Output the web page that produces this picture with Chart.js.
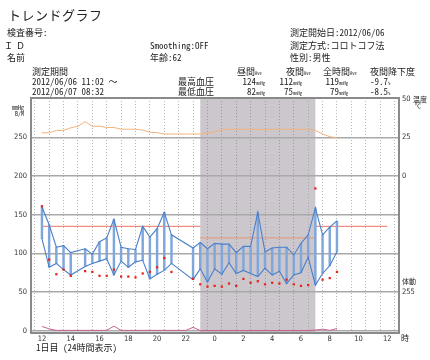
<!DOCTYPE html>
<html>
<head>
<meta charset="utf-8">
<script src="https://cdn.jsdelivr.net/npm/chart.js@4"></script>
<style>
  body { margin: 0; background: #fff; }
  #wrap { position: relative; width: 430px; height: 360px; overflow: hidden; background: #fff; }
  #c { position: absolute; left: 0; top: 0; }
  .t { position: absolute; white-space: nowrap; line-height: 1; color: #222;
       font-family: "Noto Sans Mono CJK JP", "Noto Sans CJK JP", monospace; font-size: 9px; }
  .t small { font-size: 4.5px; }
</style>
</head>
<body>
<div id="wrap">
  <canvas id="c" width="430" height="360"></canvas>
  <div class="t" style="left:8px;top:8px;font-size:13px;letter-spacing:0.5px">トレンドグラフ</div>
  <div class="t" style="left:7px;top:28px">検査番号:</div>
  <div class="t" style="left:4px;top:41px;letter-spacing:3px">ＩＤ</div>
  <div class="t" style="left:7px;top:53px">名前</div>
  <div class="t" style="left:150px;top:41px">Smoothing:OFF</div>
  <div class="t" style="left:150px;top:53px">年齢:62</div>
  <div class="t" style="left:290px;top:28px">測定開始日:2012/06/06</div>
  <div class="t" style="left:290px;top:41px">測定方式:コロトコフ法</div>
  <div class="t" style="left:290px;top:53px">性別:男性</div>

  <div class="t" style="left:32px;top:67px">測定期間</div>
  <div class="t" style="left:32px;top:77px">2012/06/06 11:02 ～</div>
  <div class="t" style="left:32px;top:87px">2012/06/07 08:32</div>
  <div class="t" style="left:178px;top:77px">最高血圧</div>
  <div class="t" style="left:178px;top:87px">最低血圧</div>
  <div class="t" style="left:237px;top:67px">昼間<small>Ave</small></div>
  <div class="t" style="left:286px;top:67px">夜間<small>Ave</small></div>
  <div class="t" style="left:323px;top:67px">全時間<small>Ave</small></div>
  <div class="t" style="left:370px;top:67px">夜間降下度</div>
  <div class="t" style="right:165px;top:77px">124<small>mmHg</small></div>
  <div class="t" style="right:128px;top:77px">112<small>mmHg</small></div>
  <div class="t" style="right:82px;top:77px">119<small>mmHg</small></div>
  <div class="t" style="left:370px;top:77px">-9.7<small>%</small></div>
  <div class="t" style="right:165px;top:87px">82<small>mmHg</small></div>
  <div class="t" style="right:128px;top:87px">75<small>mmHg</small></div>
  <div class="t" style="right:82px;top:87px">79<small>mmHg</small></div>
  <div class="t" style="left:370px;top:87px">-8.5<small>%</small></div>

  <div class="t" style="left:12px;top:105px;font-size:6px">mmHg</div>
  <div class="t" style="left:15px;top:111px;font-size:6px">B/M</div>
  <div class="t" style="left:413px;top:96px;font-size:7px">温度</div>
  <div class="t" style="left:415px;top:103px;font-size:6px">℃</div>
  <div class="t" style="left:402px;top:278px;font-size:7px">体動</div>
  <div class="t" style="left:401px;top:334px;font-size:8px">時</div>
  <div class="t" style="left:36px;top:343px">1日目 (24時間表示)</div>
</div>
<script>
// measurement times (clock), blood pressure and pulse
var times = ['12:00','12:30','13:00','13:30','14:00','15:00','15:30','16:00','16:30','17:00','17:30','18:00','18:30','19:00','19:30','20:00','20:30','21:00','22:30','23:00','23:30',
             '0:00','0:30','1:00','1:30','2:00','2:30','3:00','3:30','4:00','4:30','5:00','5:30','6:00','6:30','7:00','7:30','8:00','8:30'];
var sysBP = [160,137,108,110,101,106,99,115,120,144,108,106,105,135,121,132,153,124,107,114,106,
             113,112,112,101,109,109,153,102,107,108,108,98,113,124,159,124,134,142];
var diaBP = [119,82,87,79,72,83,87,90,93,72,90,82,89,91,67,73,78,87,66,80,63,
             80,73,88,74,78,74,70,81,72,77,61,72,75,95,59,74,84,102];
var pulse = [161,92,73,79,71,77,76,71,71,79,70,70,69,74,76,82,94,76,67,60,57,
             58,57,61,58,67,62,64,60,62,61,66,60,58,59,184,66,68,76];

// temperature (°C)
var tempTimes = ['12:00','12:30','13:00','13:30','14:00','14:30','15:00','15:30','16:00','16:30','17:00','17:30','18:00','18:30','19:00','19:30','20:00','20:30','22:00','23:00','23:30',
                 '0:00','0:30','1:00','2:00','3:00','3:30','4:00','5:00','6:00','6:30','7:00','7:30','8:00','8:30'];
var tempC = [28,28,29.5,29.5,31.2,32.2,35.2,32.2,32.2,31.4,31.4,30.3,30.3,30.3,29.8,28.3,28.1,27.2,27.2,27.2,27.8,
             28.6,29.8,30.3,30.3,30.3,29.8,30.3,30.3,30.3,30.3,29.5,27.2,25.5,24.7];

// body motion (0-255)
var moveTimes = ['12:00','12:30','13:00','16:30','17:00','17:30','22:00','22:30','23:00','6:30','7:00','7:30','8:00','8:30'];
var moveVals = [28,12,2,2,30,2,2,22,1,1,4,10,2,14];

// limit lines: [from, to, mmHg]
var limits = [['12:00','23:00',135],['23:00','7:00',120],['7:00','12:00',135]];
var nightBand = ['23:00','7:00'];

var xTickLabels = ['12','14','16','18','20','22','0','2','4','6','8','10','12'];
var leftTicks = [0,50,100,150,200,250];
var tempTicks = [50,25,0];
var moveLabel = 255;

var startClock = 12;
var leftMin = -3, leftMax = 301;
// temperature axis: 0°C at 200, 25°C at 250; motion axis: 255 at 50
function leftToTemp(v) { return (v - 200) / 2; }
function leftToMove(v) { return v * 255 / 50; }

function hrs(t) {
  var p = t.split(':');
  var v = +p[0] + p[1] / 60 - startClock;
  if (v < 0) v += 24;
  return v;
}
function span(a, b) {
  var x0 = hrs(a), x1 = hrs(b);
  if (x1 <= x0) x1 += 24;
  return [x0, x1];
}
function pts(ts, vs) { return ts.map(function (t, i) { return { x: hrs(t), y: vs[i] }; }); }

var moveTickAt = leftToTemp(moveLabel * 50 / 255);
var tickFont = { family: '"DejaVu Sans Condensed", "DejaVu Sans", sans-serif', size: 7.5 };

var limitSets = limits.map(function (l, i) {
  var s = span(l[0], l[1]);
  return {
    data: [{ x: s[0], y: l[2] }, { x: s[1], y: l[2] }],
    borderColor: i === 1 ? '#e8966e' : '#ec7462', borderWidth: 1, pointRadius: 0, order: 5
  };
});

var nightShade = {
  id: 'nightShade',
  beforeDraw: function (chart) {
    var a = chart.chartArea, x = chart.scales.x, c = chart.ctx;
    var s = span(nightBand[0], nightBand[1]);
    c.save();
    c.fillStyle = '#cbc7cd';
    c.fillRect(x.getPixelForValue(s[0]), a.top, x.getPixelForValue(s[1]) - x.getPixelForValue(s[0]), a.bottom - a.top);
    c.restore();
  },
  afterDraw: function (chart) {
    var a = chart.chartArea, c = chart.ctx;
    c.save();
    c.strokeStyle = '#8a8a8a';
    c.lineWidth = 2;
    c.strokeRect(a.left, a.top, a.right - a.left, a.bottom - a.top);
    c.restore();
  }
};

var ctx = document.getElementById('c').getContext('2d');
var myChart = new Chart(ctx, {
  type: 'line',
  data: {
    datasets: [
      { data: pts(times, pulse), showLine: false, pointStyle: 'rect', pointRadius: 1.6,
        backgroundColor: '#e3261c', borderWidth: 0, order: 0 },
      { data: pts(times, sysBP), borderColor: '#4b7fc9', borderWidth: 1.1, pointRadius: 0, order: 1 },
      { data: pts(times, diaBP), borderColor: '#4b7fc9', borderWidth: 1.1, pointRadius: 0, order: 1 },
      { type: 'bar', data: times.map(function (t, i) { return { x: hrs(t), y: [diaBP[i], sysBP[i]] }; }),
        barThickness: 1.8, backgroundColor: '#7fa7dc', borderWidth: 0, grouped: false, order: 2 },
      { data: pts(tempTimes, tempC), yAxisID: 'yT', borderColor: '#f2b27a', borderWidth: 1, pointRadius: 0, order: 6 },
      { data: pts(moveTimes, moveVals), yAxisID: 'yM', borderColor: '#c8608e', borderWidth: 1, pointRadius: 0, order: 7 }
    ].concat(limitSets)
  },
  options: {
    responsive: false,
    animation: false,
    layout: { padding: { top: 98, left: 0, right: 0, bottom: 0 } },
    plugins: { legend: { display: false }, tooltip: { enabled: false } },
    scales: {
      x: {
        type: 'linear', min: -0.25, max: 24.3,
        afterBuildTicks: function (s) { var t = []; for (var i = 0; i <= 24; i++) t.push({ value: i }); s.ticks = t; },
        ticks: { autoSkip: false, maxRotation: 0, padding: 2, font: tickFont, color: '#333',
                 callback: function (v) { return v % 2 === 0 ? xTickLabels[v / 2] : ''; } },
        grid: { color: function (c) { var s = span(nightBand[0], nightBand[1]); return (c.tick && c.tick.value > s[0] && c.tick.value < s[1]) ? '#8e8e8e' : '#a0a0a0'; },
                lineWidth: 0.8, drawTicks: false },
        border: { display: false, dash: [1, 2] },
        afterFit: function (s) { s.height = 27; }
      },
      y: {
        min: leftMin, max: leftMax,
        afterBuildTicks: function (s) { s.ticks = leftTicks.map(function (v) { return { value: v }; }); },
        ticks: { padding: 4, font: tickFont, color: '#333' },
        grid: { color: '#a9a9a9', lineWidth: 1.4, drawTicks: false },
        border: { display: false },
        afterFit: function (s) { s.width = 31; }
      },
      yT: {
        position: 'right', min: leftToTemp(leftMin), max: leftToTemp(leftMax),
        afterBuildTicks: function (s) { s.ticks = tempTicks.concat([moveTickAt]).map(function (v) { return { value: v }; }); },
        ticks: { padding: 3, font: tickFont, color: '#333',
                 callback: function (v) { return v === moveTickAt ? String(moveLabel) : String(v); } },
        grid: { display: false, drawTicks: false },
        border: { display: false },
        afterFit: function (s) { s.width = 31; }
      },
      yM: { display: false, min: leftToMove(leftMin), max: leftToMove(leftMax) }
    }
  },
  plugins: [nightShade]
});
</script>
</body>
</html>
